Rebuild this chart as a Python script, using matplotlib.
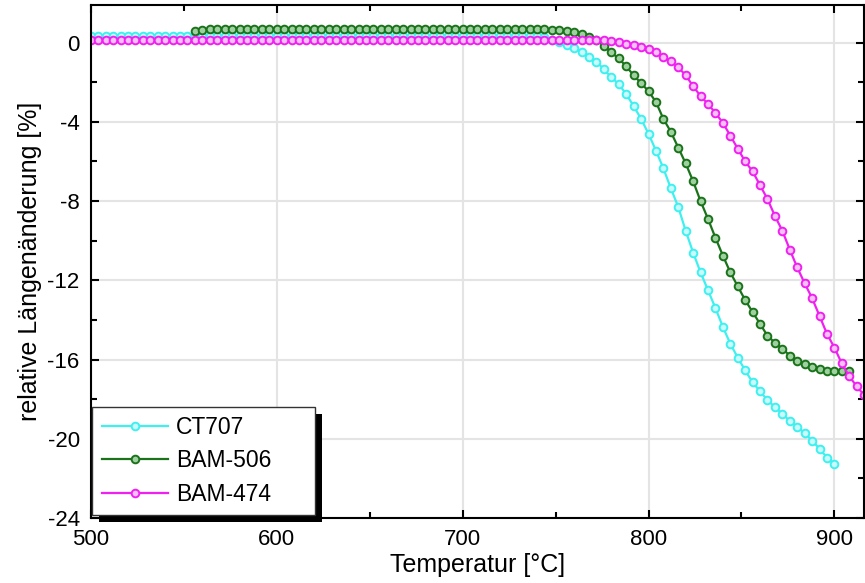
import numpy as np
import matplotlib
matplotlib.use("Agg")
import matplotlib.pyplot as plt
import matplotlib.patheffects as pe
from matplotlib.ticker import MultipleLocator

plt.rcParams['font.family'] = ['Liberation Sans', 'DejaVu Sans']
plt.rcParams['axes.unicode_minus'] = False

# Data (relative length change in %, 4 degC steps)
t_ct707_start = 500
ct707 = [0.35, 0.35, 0.35, 0.35, 0.35, 0.35, 0.35, 0.35, 0.35, 0.35,
         0.35, 0.35, 0.35, 0.35, 0.35, 0.35, 0.35, 0.35, 0.35, 0.35,
         0.35, 0.35, 0.35, 0.35, 0.35, 0.35, 0.35, 0.35, 0.35, 0.35,
         0.35, 0.35, 0.35, 0.35, 0.35, 0.35, 0.35, 0.35, 0.35, 0.35,
         0.35, 0.35, 0.35, 0.35, 0.35, 0.35, 0.35, 0.35, 0.35, 0.35,
         0.35, 0.35, 0.35, 0.35, 0.35, 0.35, 0.35, 0.35, 0.35, 0.35,
         0.33, 0.30, 0.15, 0.05, -0.10, -0.25, -0.47, -0.72, -0.96, -1.35,
         -1.75, -2.10, -2.60, -3.20, -3.85, -4.60, -5.45, -6.35, -7.35, -8.30,
         -9.50, -10.6, -11.6, -12.5, -13.4, -14.35, -15.2, -15.9, -16.55, -17.15,
         -17.6, -18.05, -18.4, -18.75, -19.1, -19.4, -19.7, -20.1, -20.5, -20.95,
         -21.25]

t_bam506_start = 556
bam506 = [0.60, 0.65, 0.68, 0.70, 0.70, 0.70, 0.70, 0.70, 0.70, 0.70,
          0.70, 0.70, 0.70, 0.70, 0.70, 0.70, 0.70, 0.70, 0.70, 0.70,
          0.70, 0.70, 0.70, 0.70, 0.70, 0.70, 0.70, 0.70, 0.70, 0.70,
          0.70, 0.70, 0.70, 0.70, 0.70, 0.70, 0.70, 0.70, 0.70, 0.70,
          0.70, 0.70, 0.70, 0.70, 0.70, 0.70, 0.69, 0.67, 0.65, 0.62,
          0.58, 0.52, 0.42, 0.30, 0.12, -0.15, -0.50, -0.80, -1.20, -1.65,
          -2.05, -2.45, -3.00, -3.85, -4.50, -5.30, -6.10, -7.00, -8.00, -8.90,
          -9.85, -10.75, -11.6, -12.3, -13.0, -13.6, -14.2, -14.8, -15.15, -15.45,
          -15.8, -16.05, -16.25, -16.4, -16.5, -16.6, -16.6, -16.6, -16.6]

t_bam474_start = 500
bam474 = [0.15, 0.15, 0.15, 0.15, 0.15, 0.15, 0.15, 0.15, 0.15, 0.15,
          0.15, 0.15, 0.15, 0.15, 0.15, 0.15, 0.15, 0.15, 0.15, 0.15,
          0.15, 0.15, 0.15, 0.15, 0.15, 0.15, 0.15, 0.15, 0.15, 0.15,
          0.15, 0.15, 0.15, 0.15, 0.15, 0.15, 0.15, 0.15, 0.15, 0.15,
          0.15, 0.15, 0.15, 0.15, 0.15, 0.15, 0.15, 0.15, 0.15, 0.15,
          0.15, 0.15, 0.15, 0.15, 0.15, 0.15, 0.15, 0.15, 0.15, 0.15,
          0.15, 0.15, 0.15, 0.15, 0.15, 0.15, 0.15, 0.14, 0.12, 0.12,
          0.10, 0.05, -0.05, -0.12, -0.20, -0.30, -0.45, -0.75, -0.95, -1.25,
          -1.65, -2.20, -2.70, -3.10, -3.55, -4.05, -4.70, -5.35, -6.00, -6.50,
          -7.20, -7.90, -8.75, -9.50, -10.45, -11.35, -12.15, -12.9, -13.8, -14.7,
          -15.4, -16.2, -16.85, -17.35, -17.8]

series = [
    ("CT707", t_ct707_start, ct707, '#3ff0f0', '#c8fbfb'),
    ("BAM-506", t_bam506_start, bam506, '#1a731a', '#9fd09f'),
    ("BAM-474", t_bam474_start, bam474, '#f020f0', '#f8c0f8'),
]

fig = plt.figure(figsize=(8.65, 5.83), dpi=100)
ax = fig.add_axes([0.105, 0.1115, 0.894, 0.88])

for name, t0, vals, col, face in series:
    temps = t0 + 4 * np.arange(len(vals))
    ax.plot(temps, vals, '-o', color=col, lw=1.6, ms=5.5,
            mfc=face, mec=col, mew=1.4, label=name)

ax.set_xlim(500, 916)
ax.set_ylim(-24, 1.9)
ax.xaxis.set_major_locator(MultipleLocator(100))
ax.xaxis.set_minor_locator(MultipleLocator(50))
ax.yaxis.set_major_locator(MultipleLocator(4))
ax.yaxis.set_minor_locator(MultipleLocator(2))
ax.tick_params(which='both', direction='in', top=True, right=True,
               width=1.5, labelsize=16, pad=8)
ax.tick_params(which='major', length=6)
ax.tick_params(which='minor', length=4)
ax.grid(True, which='major', color='#e4e4e4', lw=1.5)
ax.set_axisbelow(True)
for sp in ax.spines.values():
    sp.set_linewidth(1.5)

ax.set_xlabel('Temperatur [°C]', fontsize=18, labelpad=2)
ax.set_ylabel('relative Längenänderung [%]', fontsize=18, labelpad=4)

leg = ax.legend(loc='lower left', bbox_to_anchor=(0.002, 0.006, 0.288, 0.2),
                mode='expand', borderaxespad=0, fontsize=16.5, numpoints=1,
                fancybox=False, handlelength=2.9, handletextpad=0.35,
                labelspacing=0.45, borderpad=0.4, framealpha=1)
leg.get_frame().set_edgecolor('#333333')
leg.get_frame().set_linewidth(1.0)
leg.get_frame().set_path_effects([
    pe.SimplePatchShadow(offset=(5, -5), shadow_rgbFace='black', alpha=1.0),
    pe.Normal()])

fig.savefig('out.png', dpi=100)
